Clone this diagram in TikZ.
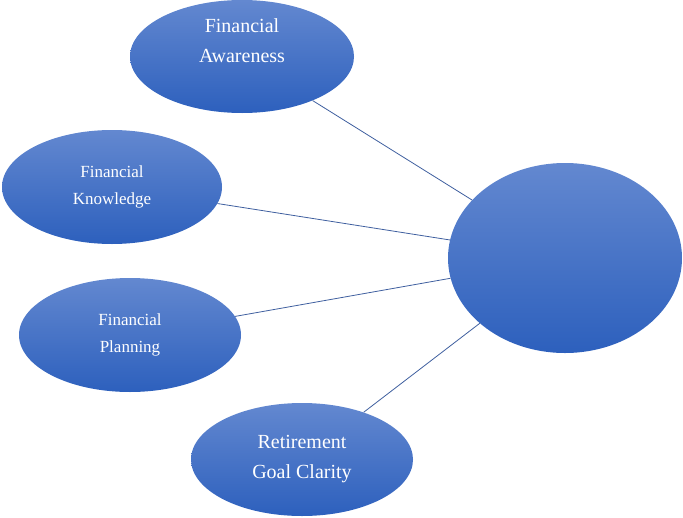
\documentclass[tikz,border=0pt]{standalone}
\usepackage{fontspec}
\setmainfont{Liberation Serif}
\usetikzlibrary{shapes.geometric}
\begin{document}
\begin{tikzpicture}[x=1pt,y=-1pt,
  bub/.style={ellipse,inner sep=0pt,draw=none,top color=topc,bottom color=botc,text=white,align=center},
  lbl/.style={text=white,align=center,inner sep=0pt},
  link/.style={draw=linec,line width=0.8pt}]
\definecolor{topc}{HTML}{6388D0}
\definecolor{botc}{HTML}{2D60BD}
\definecolor{linec}{HTML}{3F5F9F}
\useasboundingbox (0,0) rectangle (683,517);
\node[bub,minimum width=224,minimum height=113] (aw) at (242,56.5) {};
\node[lbl,font=\fontsize{20}{30}\selectfont] (awt) at (242,41) {Financial\\Awareness};
\node[bub,minimum width=220,minimum height=114,font=\fontsize{17}{27}\selectfont] (kn) at (112,187) {Financial\\Knowledge};
\node[bub,minimum width=222,minimum height=114,font=\fontsize{17}{27}\selectfont] (pl) at (130,335) {Financial\\Planning};
\node[bub,minimum width=222,minimum height=113,font=\fontsize{20}{30}\selectfont] (rg) at (302,459.5) {Retirement\\Goal Clarity};
\node[bub,minimum width=234,minimum height=190] (c) at (565,258) {};
\draw[link] (aw) -- (c);
\draw[link] (kn) -- (c);
\draw[link] (pl) -- (c);
\draw[link] (rg) -- (c);
\end{tikzpicture}
\end{document}
